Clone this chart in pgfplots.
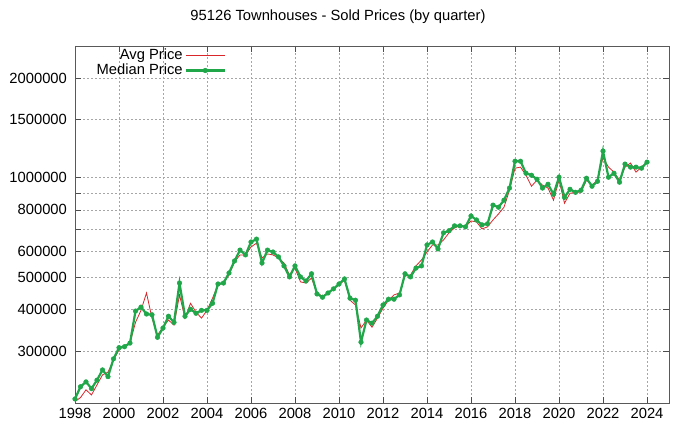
\documentclass[border=0pt]{standalone}
\usepackage{pgfplots}
\pgfplotsset{compat=1.18}
\usepackage{pgfplotstable}
\usepackage{fontspec}
\setmainfont{Liberation Sans}
\definecolor{avgred}{HTML}{D8262A}
\definecolor{medgreen}{HTML}{1FA74A}
\pgfplotsset{
  avglegend/.style={legend image code/.code={\draw[##1] (7bp,0bp) -- (46bp,0bp);}},
  medlegend/.style={legend image code/.code={\draw[mark repeat=2,mark phase=2,##1] plot coordinates {(7bp,0bp) (26.5bp,0bp) (46bp,0bp)};}},
}
\pgfplotstableread{
x avg med
1998.00 211000 215000
1998.25 217000 234000
1998.50 229000 242000
1998.75 221000 231000
1999.00 237000 245000
1999.25 254000 263000
1999.50 259000 251000
1999.75 282000 284000
2000.00 302000 307000
2000.25 312000 309000
2000.50 317000 317000
2000.75 366000 396000
2001.00 398000 407000
2001.25 449000 388000
2001.50 377000 386000
2001.75 335000 330000
2002.00 354000 352000
2002.25 372000 382000
2002.50 359000 366000
2002.75 443000 481000
2003.00 377000 382000
2003.25 418000 401000
2003.50 393000 390000
2003.75 377000 398000
2004.00 398000 398000
2004.25 433000 418000
2004.50 475000 478000
2004.75 481000 481000
2005.00 509000 516000
2005.25 557000 561000
2005.50 585000 605000
2005.75 585000 585000
2006.00 618000 640000
2006.25 635000 653000
2006.50 573000 553000
2006.75 589000 605000
2007.00 585000 597000
2007.25 573000 577000
2007.50 553000 542000
2007.75 509000 502000
2008.00 534000 542000
2008.25 485000 502000
2008.50 481000 488000
2008.75 498000 513000
2009.00 449000 446000
2009.25 439000 436000
2009.50 449000 449000
2009.75 462000 462000
2010.00 475000 478000
2010.25 491000 495000
2010.50 427000 433000
2010.75 413000 427000
2011.00 352000 319000
2011.25 372000 372000
2011.50 354000 364000
2011.75 377000 382000
2012.00 404000 413000
2012.25 427000 430000
2012.50 443000 430000
2012.75 449000 443000
2013.00 505000 513000
2013.25 509000 502000
2013.50 542000 534000
2013.75 565000 542000
2014.00 597000 627000
2014.25 627000 640000
2014.50 627000 610000
2014.75 649000 682000
2015.00 682000 692000
2015.25 706000 716000
2015.50 716000 716000
2015.75 711000 711000
2016.00 741000 767000
2016.25 736000 746000
2016.50 701000 721000
2016.75 711000 726000
2017.00 746000 827000
2017.25 778000 815000
2017.50 815000 856000
2017.75 917000 931000
2018.00 1069000 1122000
2018.25 1077000 1122000
2018.50 1018000 1032000
2018.75 943000 1018000
2019.00 984000 990000
2019.25 950000 931000
2019.50 931000 956000
2019.75 856000 892000
2020.00 984000 1004000
2020.25 838000 873000
2020.50 898000 923000
2020.75 904000 904000
2021.00 904000 917000
2021.25 984000 997000
2021.50 950000 943000
2021.75 984000 976000
2022.00 1150000 1204000
2022.25 1077000 1004000
2022.50 1040000 1032000
2022.75 984000 970000
2023.00 1077000 1100000
2023.25 1108000 1077000
2023.50 1040000 1077000
2023.75 1077000 1069000
2024.00 1115000 1115000
}\datatable
\begin{document}
\fontsize{14.8}{17}\selectfont
\begin{tikzpicture}
\useasboundingbox (0,0) rectangle (677bp,426bp);
\node[anchor=base, font=\fontsize{14.8}{17}\selectfont] at (338bp,405.7bp) {95126 Townhouses - Sold Prices (by quarter)};
\begin{axis}[
  at={(75bp,23bp)}, anchor=south west,
  scale only axis, width=594bp, height=357bp,
  xmin=1998, xmax=2025,
  ymode=log, ymin=209000, ymax=2500000,
  xtick={1998,2000,...,2024},
  ytick={300000,400000,500000,600000,700000,800000,900000,1000000,1500000,2000000},
  yticklabels={300000,400000,500000,600000,,800000,,1000000,1500000,2000000},
  /pgf/number format/assume math mode=true,
  /pgf/number format/1000 sep={},
  xticklabel style={font=\fontsize{14.8}{17}\selectfont},
  yticklabel style={font=\fontsize{14.8}{17}\selectfont, xshift=-3bp},
  tick label style={black},
  tick align=inside,
  major tick length=6bp,
  minor tick num=0,
  axis line style={black!65, line width=0.9bp},
  every tick/.style={black!70, line width=0.7bp},
  grid=major,
  major grid style={gray!70, line width=0.7bp, dash pattern=on 1.6bp off 2.4bp},
  legend cell align=right,
  legend plot pos=right,
  legend style={at={(0.031,1.0)}, anchor=north west, draw=none, fill=none,
    font=\fontsize{14.8}{15}\selectfont, inner sep=1bp, row sep=-2bp},
]
\addplot[avgred, line width=0.8bp, no marks, avglegend]
  table[x=x, y=avg] {\datatable};
\addlegendentry{Avg Price}
\addplot[medgreen, line width=2.2bp, mark=*, mark size=2.3bp,
  mark options={fill=medgreen, draw=medgreen, line width=0.5bp}, medlegend]
  table[x=x, y=med] {\datatable};
\addlegendentry{Median Price}
\end{axis}
\end{tikzpicture}
\end{document}
